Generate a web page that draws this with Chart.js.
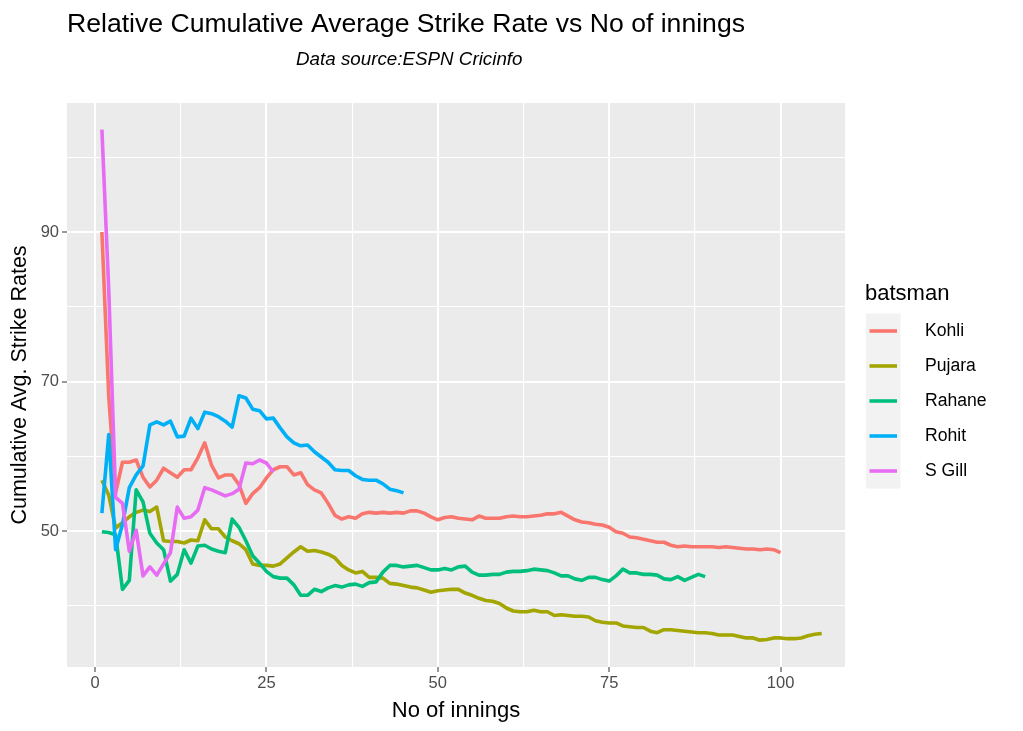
<!DOCTYPE html>
<html>
<head>
<meta charset="utf-8">
<script src="https://cdn.jsdelivr.net/npm/chart.js@4.4.0/dist/chart.umd.min.js"></script>
<style>
  html, body { margin: 0; padding: 0; background: #fff; }
  #wrap { width: 1023px; height: 731px; position: relative; }
</style>
</head>
<body>
<div id="wrap"><canvas id="sr"></canvas></div>
<script>
// cumulative average strike rate per innings (innings 1..n)
const batsmen = ['Kohli', 'Pujara', 'Rahane', 'Rohit', 'S Gill'];
const colours = ['#F8766D', '#A3A500', '#00BF7D', '#00B0F6', '#E76BF3'];

const kohli = [
  90, 68, 55.1, 59.2, 59.2, 59.5, 57.2, 55.9, 56.8, 58.4,
  57.8, 57.2, 58.2, 58.2, 59.8, 61.8, 58.8, 57.1, 57.5, 57.5,
  56.2, 53.7, 55, 55.8, 57.1, 58.2, 58.6, 58.6, 57.5, 57.8,
  56.2, 55.5, 55.1, 53.7, 52.1, 51.6, 51.9, 51.7, 52.3, 52.5,
  52.4, 52.5, 52.4, 52.5, 52.4, 52.7, 52.7, 52.4, 51.9, 51.5,
  51.8, 51.9, 51.7, 51.6, 51.5, 52, 51.7, 51.7, 51.7, 51.9,
  52, 51.9, 51.9, 52, 52.1, 52.3, 52.3, 52.5, 52, 51.5,
  51.2, 51.1, 50.9, 50.8, 50.5, 49.9, 49.7, 49.2, 49.1, 48.9,
  48.7, 48.5, 48.5, 48.1, 47.9, 48, 47.9, 47.9, 47.9, 47.9,
  47.8, 47.9, 47.8, 47.7, 47.6, 47.6, 47.5, 47.6, 47.5, 47.1
];
const pujara = [
  56.8, 54.8, 50.4, 51.1, 51.9, 52.5, 52.8, 52.6, 53.2, 48.7,
  48.6, 48.6, 48.4, 48.8, 48.7, 51.5, 50.3, 50.3, 49.2, 48.7,
  48.3, 47.5, 45.6, 45.4, 45.4, 45.3, 45.6, 46.4, 47.2, 47.9,
  47.3, 47.4, 47.2, 46.9, 46.4, 45.4, 44.8, 44.4, 44.6, 43.8,
  43.8, 43.7, 43, 42.9, 42.7, 42.5, 42.4, 42.1, 41.8, 42,
  42.1, 42.2, 42.2, 41.7, 41.4, 41, 40.7, 40.6, 40.3, 39.7,
  39.3, 39.2, 39.2, 39.4, 39.2, 39.2, 38.7, 38.8, 38.7, 38.6,
  38.6, 38.5, 38, 37.8, 37.7, 37.7, 37.3, 37.2, 37.1, 37.1,
  36.6, 36.4, 36.8, 36.8, 36.7, 36.6, 36.5, 36.4, 36.4, 36.3,
  36.1, 36.1, 36.1, 35.9, 35.7, 35.7, 35.4, 35.5, 35.7, 35.7,
  35.6, 35.6, 35.7, 36, 36.2, 36.3
];
const rahane = [
  49.9, 49.8, 49.5, 42.2, 43.4, 55.5, 53.9, 49.7, 48.4, 47.5,
  43.3, 44.2, 47.5, 45.7, 48, 48.1, 47.6, 47.3, 47.1, 51.6,
  50.5, 48.7, 46.7, 45.7, 44.6, 43.9, 43.7, 43.7, 42.8, 41.4,
  41.4, 42.2, 41.9, 42.4, 42.7, 42.5, 42.8, 42.9, 42.6, 43.1,
  43.2, 44.5, 45.4, 45.4, 45.2, 45.3, 45.4, 45.1, 44.8, 44.8,
  45, 44.8, 45.2, 45.3, 44.5, 44.1, 44.1, 44.2, 44.2, 44.5,
  44.6, 44.6, 44.7, 44.9, 44.8, 44.7, 44.4, 44, 44, 43.6,
  43.4, 43.8, 43.8, 43.5, 43.3, 44, 44.9, 44.4, 44.4, 44.2,
  44.2, 44.1, 43.6, 43.5, 43.9, 43.4, 43.8, 44.2, 43.9
];
const rohit = [
  52.4, 62.9, 47.5, 50.9, 55.8, 57.5, 58.7, 64.2, 64.6, 64.2,
  64.7, 62.6, 62.7, 65.1, 63.7, 65.9, 65.7, 65.3, 64.7, 63.9,
  68.1, 67.8, 66.3, 66.1, 65, 65.1, 63.8, 62.6, 61.8, 61.4,
  61.5, 60.6, 59.9, 59.2, 58.2, 58.1, 58.1, 57.4, 56.9, 56.8,
  56.8, 56.3, 55.6, 55.4, 55.1
];
const sGill = [
  103.7, 82.3, 54.5, 53.7, 47.3, 50.1, 44, 45.2, 44.1, 45.6,
  47.1, 53.2, 51.7, 51.9, 52.8, 55.8, 55.5, 55.1, 54.7, 55,
  55.6, 59.1, 59, 59.5, 59.1, 57.9
];

const xTicks = [0, 12.5, 25, 37.5, 50, 62.5, 75, 87.5, 100];
const yTicks = [40, 50, 60, 70, 80, 90, 100];
const xLabelled = [0, 25, 50, 75, 100];
const yLabelled = [50, 70, 90];

const chartTitle = 'Relative Cumulative Average Strike Rate vs No of innings';
const chartSubtitle = 'Data source:ESPN Cricinfo';

const FONT = "'Liberation Sans', Arial, Helvetica, sans-serif";
const series = [kohli, pujara, rahane, rohit, sGill];

const datasets = batsmen.map((name, i) => ({
  label: name,
  data: series[i].map((v, k) => ({ x: k + 1, y: v })),
  borderColor: colours[i],
  backgroundColor: colours[i],
  borderWidth: 3.6,
  pointRadius: 0,
  tension: 0,
  borderJoinStyle: 'round',
  order: batsmen.length - i   // later batsmen painted on top, like ggplot
}));

const decor = {
  id: 'decor',
  beforeDraw(chart) {
    const { ctx, chartArea: a } = chart;
    ctx.save();
    ctx.fillStyle = '#fff';
    ctx.fillRect(0, 0, chart.width, chart.height);
    ctx.fillStyle = '#EBEBEB';
    ctx.fillRect(a.left, a.top, a.right - a.left, a.bottom - a.top);
    ctx.restore();
  },
  afterDraw(chart) {
    const ctx = chart.ctx;
    ctx.save();
    ctx.fillStyle = '#000';
    ctx.textBaseline = 'alphabetic';
    ctx.textAlign = 'left';
    ctx.font = '26.6px ' + FONT;
    ctx.fillText(chartTitle, 67, 32);
    ctx.font = 'italic 18.8px ' + FONT;
    ctx.fillText(chartSubtitle, 296, 65);

    // legend
    ctx.font = '22px ' + FONT;
    ctx.fillText('batsman', 865, 300);
    const keyX = 866, keyW = 34.5, keyH = 35, top0 = 313.5;
    ctx.fillStyle = '#F2F2F2';
    ctx.fillRect(keyX, top0, keyW, keyH * batsmen.length);
    ctx.font = '17.6px ' + FONT;
    batsmen.forEach((name, i) => {
      const cy = top0 + keyH * i + keyH / 2;
      ctx.strokeStyle = colours[i];
      ctx.lineWidth = 3.6;
      ctx.beginPath();
      ctx.moveTo(keyX + 3.5, cy);
      ctx.lineTo(keyX + keyW - 3.5, cy);
      ctx.stroke();
      ctx.fillStyle = '#000';
      ctx.textBaseline = 'middle';
      ctx.fillText(name, 925, cy);
    });
    ctx.restore();
  }
};

new Chart(document.getElementById('sr'), {
  type: 'line',
  data: { datasets },
  plugins: [decor],
  options: {
    responsive: true,
    maintainAspectRatio: false,
    animation: false,
    layout: { padding: { left: 0, top: 103, right: 178, bottom: 0 } },
    plugins: { legend: { display: false }, tooltip: { enabled: false } },
    scales: {
      x: {
        type: 'linear',
        min: -4.09,
        max: 109.4,
        afterBuildTicks: s => { s.ticks = xTicks.map(v => ({ value: v })); },
        afterFit: s => { s.height = 64; },
        ticks: {
          autoSkip: false,
          maxRotation: 0,
          padding: 2,
          color: '#4D4D4D',
          font: { family: FONT, size: 16.5 },
          callback: v => xLabelled.includes(v) ? String(v) : ''
        },
        grid: {
          color: '#fff',
          lineWidth: c => xLabelled.includes(c.tick.value) ? 2 : 1.1,
          tickLength: 5,
          tickColor: c => xLabelled.includes(c.tick.value) ? '#333' : 'rgba(0,0,0,0)',
          tickWidth: 1
        },
        border: { display: false },
        title: {
          display: true,
          text: 'No of innings',
          color: '#000',
          font: { family: FONT, size: 22 },
          padding: { top: 0, bottom: 7 }
        }
      },
      y: {
        min: 31.81,
        max: 107.26,
        afterBuildTicks: s => { s.ticks = yTicks.map(v => ({ value: v })); },
        afterFit: s => { s.width = 67; },
        ticks: {
          padding: 3,
          color: '#4D4D4D',
          font: { family: FONT, size: 16.5 },
          callback: v => yLabelled.includes(v) ? String(v) : ''
        },
        grid: {
          color: '#fff',
          lineWidth: c => yLabelled.includes(c.tick.value) ? 2 : 1.1,
          tickLength: 5,
          tickColor: c => yLabelled.includes(c.tick.value) ? '#333' : 'rgba(0,0,0,0)',
          tickWidth: 1
        },
        border: { display: false },
        title: {
          display: true,
          text: 'Cumulative Avg. Strike Rates',
          color: '#000',
          font: { family: FONT, size: 21.5 },
          padding: { top: 7, bottom: 0 }
        }
      }
    }
  }
});
</script>
</body>
</html>
